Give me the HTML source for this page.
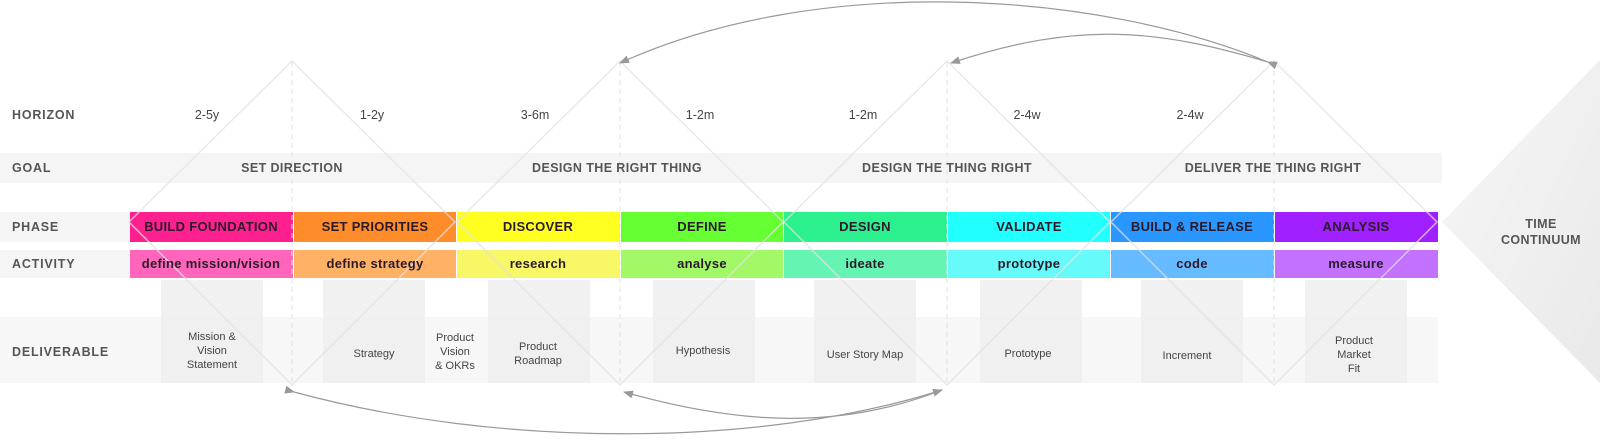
<!DOCTYPE html>
<html><head><meta charset="utf-8"><style>
html,body{margin:0;padding:0;background:#fff;}
svg{display:block;font-family:"Liberation Sans",Arial,sans-serif;}
.lbl{font-size:12.5px;font-weight:bold;fill:#555;letter-spacing:0.8px;}
.hz{font-size:12.5px;fill:#444;text-anchor:middle;}
.goal{font-size:12.5px;font-weight:bold;fill:#555;text-anchor:middle;letter-spacing:0.4px;}
.ph{font-size:13px;font-weight:bold;fill:#2a1a2a;text-anchor:middle;letter-spacing:0.3px;}
.dl{font-size:11px;fill:#444;text-anchor:middle;}
</style></head><body>
<svg width="1600" height="442" viewBox="0 0 1600 442">
<defs>
<linearGradient id="tg" x1="0" y1="0" x2="1" y2="1">
<stop offset="0" stop-color="#f7f7f7"/><stop offset="1" stop-color="#e9e9e9"/>
</linearGradient>
<marker id="ah" markerWidth="10" markerHeight="8" refX="9" refY="4" orient="auto" markerUnits="userSpaceOnUse">
<path d="M0,0 L10,4 L0,8 Z" fill="#999"/>
</marker>
</defs>
<polygon points="1442,222 1600,60 1600,383" fill="url(#tg)"/>
<text x="1541" y="228" class="goal">TIME</text>
<text x="1541" y="244" class="goal">CONTINUUM</text>
<rect x="0" y="153" width="1442" height="30" fill="#f5f5f5"/>
<rect x="0" y="212" width="130" height="30" fill="#f5f5f5"/>
<rect x="0" y="250" width="130" height="28" fill="#f5f5f5"/>
<rect x="0" y="317" width="1438" height="66" fill="#f7f7f7"/>
<g fill="#efefef" opacity="0.85">
<rect x="161" y="280" width="102" height="103"/>
<rect x="323" y="280" width="102" height="103"/>
<rect x="488" y="280" width="102" height="103"/>
<rect x="653" y="280" width="102" height="103"/>
<rect x="814" y="280" width="102" height="103"/>
<rect x="980" y="280" width="102" height="103"/>
<rect x="1141" y="280" width="102" height="103"/>
<rect x="1305" y="280" width="102" height="103"/>
</g>
<g>
<rect x="130" y="212" width="163" height="30" fill="#ff2090"/>
<rect x="294" y="212" width="162" height="30" fill="#ff8c2a"/>
<rect x="457" y="212" width="163" height="30" fill="#ffff22"/>
<rect x="621" y="212" width="162" height="30" fill="#66ff33"/>
<rect x="784" y="212" width="163" height="30" fill="#2cf08e"/>
<rect x="948" y="212" width="162" height="30" fill="#22ffff"/>
<rect x="1111" y="212" width="163" height="30" fill="#2a96ff"/>
<rect x="1275" y="212" width="163" height="30" fill="#a020ff"/>
</g>
<g>
<rect x="130" y="250" width="163" height="28" fill="#ff66bb"/>
<rect x="294" y="250" width="162" height="28" fill="#ffb266"/>
<rect x="457" y="250" width="163" height="28" fill="#f8f866"/>
<rect x="621" y="250" width="162" height="28" fill="#a2f866"/>
<rect x="784" y="250" width="163" height="28" fill="#66f4b2"/>
<rect x="948" y="250" width="162" height="28" fill="#66fafa"/>
<rect x="1111" y="250" width="163" height="28" fill="#66baff"/>
<rect x="1275" y="250" width="163" height="28" fill="#c272ff"/>
</g>
<g fill="none" stroke="#e2e2e2" stroke-width="1.5" opacity="0.75">
<polygon points="292,61 455,222 292,385 129,222"/>
<polygon points="620,61 783,222 620,385 457,222"/>
<polygon points="947,61 1110,222 947,385 784,222"/>
<polygon points="1274,61 1437,222 1274,385 1111,222"/>
</g>
<g stroke="#e2e2e2" stroke-width="1" stroke-dasharray="5,4">
<line x1="292" y1="62" x2="292" y2="384"/>
<line x1="620" y1="62" x2="620" y2="384"/>
<line x1="947" y1="62" x2="947" y2="384"/>
<line x1="1274" y1="62" x2="1274" y2="384"/>
</g>
<text x="12" y="119" class="lbl">HORIZON</text>
<text x="12" y="172" class="lbl">GOAL</text>
<text x="12" y="231" class="lbl">PHASE</text>
<text x="12" y="268" class="lbl">ACTIVITY</text>
<text x="12" y="356" class="lbl">DELIVERABLE</text>
<text x="207" y="119" class="hz">2-5y</text>
<text x="372" y="119" class="hz">1-2y</text>
<text x="535" y="119" class="hz">3-6m</text>
<text x="700" y="119" class="hz">1-2m</text>
<text x="863" y="119" class="hz">1-2m</text>
<text x="1027" y="119" class="hz">2-4w</text>
<text x="1190" y="119" class="hz">2-4w</text>
<text x="292" y="172" class="goal">SET DIRECTION</text>
<text x="617" y="172" class="goal">DESIGN THE RIGHT THING</text>
<text x="947" y="172" class="goal">DESIGN THE THING RIGHT</text>
<text x="1273" y="172" class="goal">DELIVER THE THING RIGHT</text>
<text x="211" y="231" class="ph">BUILD FOUNDATION</text>
<text x="375" y="231" class="ph">SET PRIORITIES</text>
<text x="538" y="231" class="ph">DISCOVER</text>
<text x="702" y="231" class="ph">DEFINE</text>
<text x="865" y="231" class="ph">DESIGN</text>
<text x="1029" y="231" class="ph">VALIDATE</text>
<text x="1192" y="231" class="ph">BUILD &amp; RELEASE</text>
<text x="1356" y="231" class="ph">ANALYSIS</text>
<text x="211" y="268" class="ph">define mission/vision</text>
<text x="375" y="268" class="ph">define strategy</text>
<text x="538" y="268" class="ph">research</text>
<text x="702" y="268" class="ph">analyse</text>
<text x="865" y="268" class="ph">ideate</text>
<text x="1029" y="268" class="ph">prototype</text>
<text x="1192" y="268" class="ph">code</text>
<text x="1356" y="268" class="ph">measure</text>
<text x="212" y="340" class="dl">Mission &amp;</text>
<text x="212" y="354" class="dl">Vision</text>
<text x="212" y="368" class="dl">Statement</text>
<text x="374" y="357" class="dl">Strategy</text>
<text x="455" y="341" class="dl">Product</text>
<text x="455" y="355" class="dl">Vision</text>
<text x="455" y="369" class="dl">&amp; OKRs</text>
<text x="538" y="350" class="dl">Product</text>
<text x="538" y="364" class="dl">Roadmap</text>
<text x="703" y="354" class="dl">Hypothesis</text>
<text x="865" y="358" class="dl">User Story Map</text>
<text x="1028" y="357" class="dl">Prototype</text>
<text x="1187" y="359" class="dl">Increment</text>
<text x="1354" y="344" class="dl">Product</text>
<text x="1354" y="358" class="dl">Market</text>
<text x="1354" y="372" class="dl">Fit</text>
<g fill="none" stroke="#999" stroke-width="1.2">
<path d="M1268,62 C1100,-8 820,-28 620,63" marker-start="url(#ah)" marker-end="url(#ah)"/>
<path d="M1268,62 C1160,30 1080,20 951,63" marker-end="url(#ah)"/>
<path d="M294,392 C500,448 760,448 942,390" marker-start="url(#ah)" marker-end="url(#ah)"/>
<path d="M942,390 C840,430 740,425 624,392" marker-end="url(#ah)"/>
</g>
</svg>
</body></html>
